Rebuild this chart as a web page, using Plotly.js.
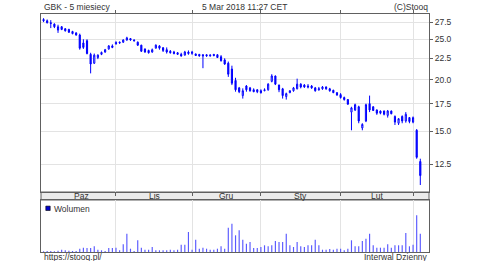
<!DOCTYPE html>
<html>
<head>
<meta charset="utf-8">
<script src="https://cdn.plot.ly/plotly-3.0.1.min.js"></script>
<style>html,body{margin:0;padding:0;background:#fff;}#chart{width:500px;height:261px;}</style>
</head>
<body>
<div id="chart"></div>
<script>
// Trading days (GPW), Oct 2017 - Mar 2018
const dates = [
 '2017-10-04','2017-10-05','2017-10-06','2017-10-09','2017-10-10','2017-10-11','2017-10-12','2017-10-13','2017-10-16','2017-10-17',
 '2017-10-18','2017-10-19','2017-10-20','2017-10-23','2017-10-24','2017-10-25','2017-10-26','2017-10-27','2017-10-30','2017-10-31',
 '2017-11-02','2017-11-03','2017-11-06','2017-11-07','2017-11-08','2017-11-09','2017-11-10','2017-11-13','2017-11-14','2017-11-15',
 '2017-11-16','2017-11-17','2017-11-20','2017-11-21','2017-11-22','2017-11-23','2017-11-24','2017-11-27','2017-11-28','2017-11-29',
 '2017-11-30','2017-12-01','2017-12-04','2017-12-05','2017-12-06','2017-12-07','2017-12-08','2017-12-11','2017-12-12','2017-12-13',
 '2017-12-14','2017-12-15','2017-12-18','2017-12-19','2017-12-20','2017-12-21','2017-12-22','2017-12-27','2017-12-28','2017-12-29',
 '2018-01-02','2018-01-03','2018-01-04','2018-01-05','2018-01-08','2018-01-09','2018-01-10','2018-01-11','2018-01-12','2018-01-15',
 '2018-01-16','2018-01-17','2018-01-18','2018-01-19','2018-01-22','2018-01-23','2018-01-24','2018-01-25','2018-01-26','2018-01-29',
 '2018-01-30','2018-01-31','2018-02-01','2018-02-02','2018-02-05','2018-02-06','2018-02-07','2018-02-08','2018-02-09','2018-02-12',
 '2018-02-13','2018-02-14','2018-02-15','2018-02-16','2018-02-19','2018-02-20','2018-02-21','2018-02-22','2018-02-23','2018-02-26',
 '2018-02-27','2018-02-28','2018-03-01','2018-03-02','2018-03-05'
];

const open = [
 27.9,27.7,27.4,27.2,26.3,26.8,26.5,26.4,26.1,25.9,
 25.6,24.5,24.8,23.0,21.9,22.6,23.0,23.3,23.7,24.1,
 24.35,24.6,24.6,24.9,25.1,24.9,24.6,24.2,23.7,23.5,
 23.3,23.8,24.1,23.85,23.6,23.4,23.3,23.2,23.0,22.9,
 23.3,23.1,23.05,23.0,22.95,22.95,22.8,23.0,22.95,22.7,
 22.3,21.9,21.2,19.9,19.1,18.3,19.3,19.1,18.9,18.9,
 18.8,18.8,18.9,19.8,20.4,19.4,19.0,18.2,18.6,18.8,
 19.0,19.5,19.4,19.3,19.3,19.1,18.9,19.0,19.2,19.0,
 18.85,18.6,18.4,18.1,17.9,16.7,16.9,17.2,15.3,15.9,
 17.5,17.2,16.9,16.8,16.8,16.4,16.8,16.3,15.7,16.3,
 15.9,16.2,15.8,15.1,12.7
];
const high = [
 28.1,27.9,27.8,27.3,27.1,26.9,26.6,26.5,26.2,26.0,
 25.8,25.0,25.0,23.2,23.1,23.0,23.35,23.7,24.2,24.3,
 24.7,24.7,25.0,25.35,25.15,25.0,24.7,24.25,23.75,23.6,
 23.75,24.3,24.2,23.95,23.9,23.55,23.45,23.3,23.2,23.45,
 23.5,23.45,23.1,23.0,23.0,23.0,23.0,23.0,23.0,22.9,
 22.5,22.1,21.6,20.2,19.2,19.05,19.4,19.2,19.05,18.95,
 18.95,19.05,19.6,20.6,20.45,19.45,19.1,18.6,18.85,19.2,
 20.1,19.6,19.5,19.5,19.4,19.2,19.2,19.3,19.25,19.1,
 18.9,18.65,18.55,18.2,17.95,17.2,17.5,17.3,15.7,17.5,
 18.3,17.25,16.95,16.85,16.85,16.9,16.85,16.4,16.15,16.4,
 16.7,16.25,16.3,15.2,12.9
];
const low = [
 27.5,27.3,26.6,26.6,25.9,26.3,26.1,25.9,25.7,25.5,
 23.6,23.7,23.0,20.7,21.8,22.4,22.9,23.2,23.6,23.8,
 24.3,24.4,24.5,24.8,24.8,24.7,24.1,23.3,23.2,23.1,
 23.2,23.75,23.6,23.3,23.1,23.1,23.0,22.95,22.7,22.85,
 22.95,22.95,22.8,22.7,21.3,22.7,22.7,22.75,22.55,22.1,
 21.7,20.3,19.4,18.7,18.55,18.0,18.7,18.7,18.65,18.55,
 18.5,18.75,18.8,19.7,19.4,18.65,18.0,17.9,18.55,18.7,
 18.95,19.05,19.1,19.05,19.0,18.7,18.8,18.9,18.9,18.7,
 18.55,18.3,18.0,17.8,17.4,15.1,16.8,15.7,15.1,15.8,
 16.7,16.8,16.45,16.5,16.4,16.2,16.5,15.55,15.55,15.7,
 15.75,15.7,15.7,12.9,11.15
];
const close = [
 27.7,27.4,27.3,26.8,26.8,26.4,26.2,26.0,25.8,25.6,
 23.8,23.9,23.1,21.8,22.9,22.9,23.25,23.6,24.1,23.9,
 24.6,24.5,24.9,25.2,24.9,24.8,24.2,23.4,23.3,23.2,
 23.6,24.2,23.8,23.5,23.3,23.2,23.1,23.0,22.8,23.3,
 23.1,23.3,22.85,22.8,22.8,22.8,22.9,22.85,22.6,22.2,
 21.8,20.6,19.6,18.9,18.7,18.8,18.9,18.8,18.7,18.7,
 18.6,18.9,19.5,20.4,19.5,18.9,18.3,18.5,18.8,19.1,
 19.5,19.2,19.2,19.2,19.1,18.8,19.0,19.2,19.0,18.8,
 18.6,18.35,18.1,17.9,17.45,17.1,17.4,15.9,15.6,17.4,
 16.9,16.85,16.6,16.6,16.5,16.8,16.55,15.8,16.1,15.9,
 16.5,15.85,16.2,13.0,11.75
];
// volume, thousands of shares
const volume = [
 14,20,20,14,26,46,34,26,20,20,
 66,86,80,80,114,46,34,20,80,80,
 86,34,154,366,66,20,234,86,46,46,
 100,34,34,34,34,46,34,46,146,146,
 400,46,246,66,86,66,46,46,66,114,
 66,486,566,334,434,246,166,200,80,80,
 100,134,114,134,220,200,200,366,134,100,
 200,114,100,134,134,246,134,46,46,60,
 46,66,66,34,66,234,114,114,220,266,
 366,134,86,86,86,154,86,134,134,134,
 380,114,146,734,366
];

const priceTicks = [12.5, 15, 17.5, 20, 22.5, 25, 27.5];
const monthNames = ['Paz', 'Lis', 'Gru', 'Sty', 'Lut'];

// ---- build ----
const xi = dates.map((d, i) => i);
const starts = [];
for (let i = 1; i < dates.length; i++) {
  if (dates[i].slice(0, 7) !== dates[i - 1].slice(0, 7)) starts.push(i);
}
const X0 = -0.7, X1 = 106.4;
const edges = [X0 + 1.6].concat(starts);
const monthMid = monthNames.map((m, k) => (edges[k] + edges[k + 1]) / 2);

const L = 41, R = 429, T = 14, B = 252;
const px = v => (v - L) / (R - L);
const py = v => (B - v) / (B - T);

const BLUE = '#0000ff';
const FRAME = '#606060';
const GRID = '#e3e3e3';

const traces = [
  {
    type: 'candlestick', x: xi, open: open, high: high, low: low, close: close,
    xaxis: 'x', yaxis: 'y',
    increasing: {line: {color: BLUE, width: 1}, fillcolor: '#ffffff'},
    decreasing: {line: {color: BLUE, width: 1}, fillcolor: BLUE},
    whiskerwidth: 0, hoverinfo: 'skip', showlegend: false
  },
  {
    type: 'bar', x: xi, y: volume, xaxis: 'x2', yaxis: 'y2',
    width: 0.32, marker: {color: '#5a5aff', line: {width: 0}},
    hoverinfo: 'skip', showlegend: false
  }
];

const annotations = [
  {text: 'GBK - 5 miesiecy', x: px(41.5), y: py(7), xanchor: 'left'},
  {text: '5 Mar 2018 11:27 CET', x: px(244), y: py(7), xanchor: 'center'},
  {text: '(C)Stooq', x: px(429.5), y: py(7), xanchor: 'right'},
  {text: 'https://stooq.pl/', x: px(41.5), y: py(257), xanchor: 'left'},
  {text: 'Interwal Dzienny', x: px(429.5), y: py(257), xanchor: 'right'},
  {text: 'Wolumen', x: px(51.5), y: py(208.5), xanchor: 'left'}
].map(a => Object.assign({xref: 'paper', yref: 'paper', yanchor: 'middle', showarrow: false,
  font: {size: 8.5, color: '#333'}}, a));

monthNames.forEach((m, k) => {
  annotations.push({text: m, x: monthMid[k], xref: 'x', y: py(196), yref: 'paper',
    xanchor: 'center', yanchor: 'middle', showarrow: false, font: {size: 8.5, color: '#333'}});
});

const shapes = [
  {type: 'rect', xref: 'paper', yref: 'paper', x0: 0, x1: 1, y0: py(200), y1: py(192),
   fillcolor: '#ebebeb', line: {color: FRAME, width: 1}, layer: 'below'},
  {type: 'rect', xref: 'paper', yref: 'paper', x0: px(45.8), x1: px(50.2), y0: py(210.5), y1: py(206.1),
   fillcolor: '#0000cc', line: {color: '#000', width: 0.6}}
];

const layout = {
  width: 500, height: 261,
  margin: {l: L, r: 500 - R, t: T, b: 261 - B, pad: 0},
  paper_bgcolor: '#ffffff', plot_bgcolor: '#ffffff',
  font: {family: '"Liberation Sans", Arial, sans-serif', size: 8.5, color: '#333'},
  showlegend: false,
  boxgap: 0.55,
  xaxis: {
    domain: [0, 1], anchor: 'y', range: [X0, X1], tickmode: 'array', tickvals: starts,
    showticklabels: false, showgrid: true, gridcolor: GRID, gridwidth: 1,
    ticks: 'outside', ticklen: 3, tickcolor: FRAME, showline: true, linecolor: FRAME,
    linewidth: 1, mirror: 'ticks', zeroline: false, rangeslider: {visible: false}, fixedrange: true
  },
  yaxis: {
    domain: [py(192), 1], anchor: 'x', type: 'log',
    range: [1.0305, 1.4588], side: 'right', tickmode: 'array',
    tickvals: priceTicks, ticktext: priceTicks.map(v => v.toFixed(1)),
    ticks: 'outside', ticklen: 3, tickcolor: FRAME, showline: true, mirror: true,
    linecolor: FRAME, linewidth: 1, showgrid: true, gridcolor: GRID, gridwidth: 1,
    zeroline: false, tickfont: {size: 8.5, color: '#333'}, fixedrange: true
  },
  xaxis2: {
    domain: [0, 1], anchor: 'y2', range: [X0, X1], tickmode: 'array', tickvals: starts,
    showticklabels: false, showgrid: true, gridcolor: GRID, gridwidth: 1, ticks: '',
    showline: true, linecolor: FRAME, linewidth: 1, mirror: true, zeroline: false, fixedrange: true
  },
  yaxis2: {
    domain: [0, py(200)], anchor: 'x2', range: [0, 1040], side: 'right',
    showticklabels: false, showgrid: false, ticks: '', showline: true, mirror: true,
    linecolor: FRAME, linewidth: 1, zeroline: false, fixedrange: true
  },
  annotations: annotations,
  shapes: shapes
};

Plotly.newPlot('chart', traces, layout, {staticPlot: true, displayModeBar: false});
</script>
</body>
</html>
